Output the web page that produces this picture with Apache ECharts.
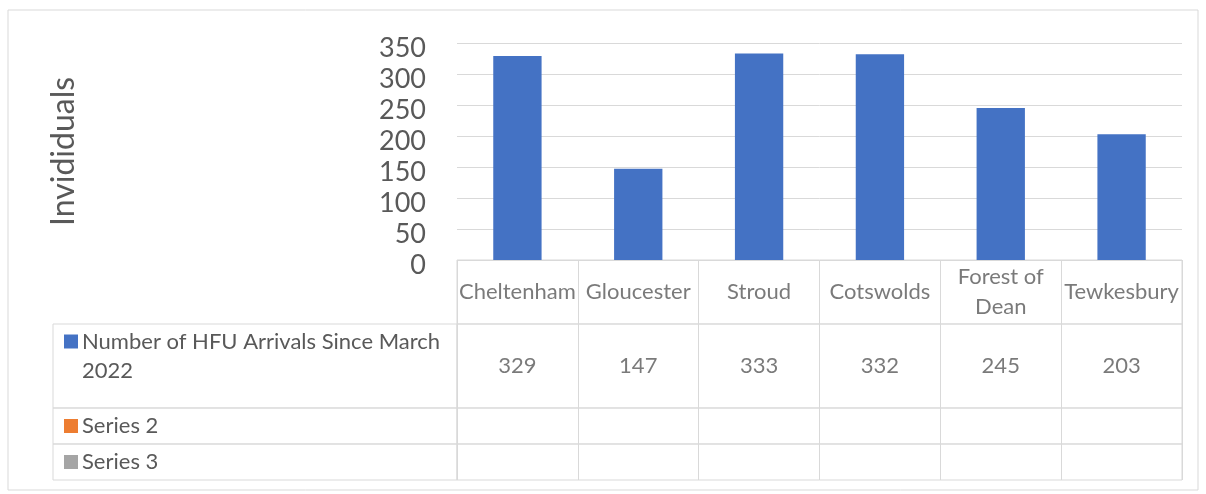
<!DOCTYPE html>
<html>
<head>
<meta charset="utf-8">
<script src="https://cdn.jsdelivr.net/npm/echarts@6/dist/echarts.min.js"></script>
<style>
html,body{margin:0;padding:0;background:#fff;}
#chart{width:1206px;height:494px;}
</style>
</head>
<body>
<div id="chart"></div>
<script>
// ---- data ----
const categories = ['Cheltenham', 'Gloucester', 'Stroud', 'Cotswolds', 'Forest of Dean', 'Tewkesbury'];
const categoryLabels = ['Cheltenham', 'Gloucester', 'Stroud', 'Cotswolds', 'Forest of\nDean', 'Tewkesbury'];
const arrivals = [329, 147, 333, 332, 245, 203];
const seriesNames = ['Number of HFU Arrivals Since March 2022', 'Series 2', 'Series 3'];
const seriesLegendLines = [['Number of HFU Arrivals Since March', '2022'], ['Series 2'], ['Series 3']];
const seriesColors = ['#4472C4', '#ED7D31', '#A5A5A5'];
const yMin = 0, yMax = 350, yStep = 50;
const axisTitle = 'Invididuals';

// ---- style / layout ----
const FONT = 'Lato';
const TXT = '#595959';
const LINE = '#d9d9d9';
const plotLeft = 457, plotRight = 24;
const rows = [
  {top: 260, height: 64},  // category row
  {top: 324, height: 84},  // series 1
  {top: 408, height: 36},  // series 2
  {top: 444, height: 36}   // series 3
];
const leftColLeft = 53, leftColWidth = plotLeft - 53;

const grids = [{left: plotLeft, right: plotRight, top: 43, height: 217}];
const xAxes = [{
  type: 'category', data: categories, gridIndex: 0, boundaryGap: true,
  axisLine: {show: false}, axisTick: {show: false}, axisLabel: {show: false}, splitLine: {show: false}
}];
const yAxes = [{
  type: 'value', gridIndex: 0, min: yMin, max: yMax, interval: yStep,
  axisLine: {show: false}, axisTick: {show: false},
  axisLabel: {margin: 31, formatter: v => '{a|' + v + '}',
    rich: {a: {color: TXT, fontFamily: FONT, fontSize: 27, padding: [11, 0, 0, 0]}}},
  splitLine: {lineStyle: {color: LINE, width: 1}},
  name: axisTitle, nameLocation: 'middle', nameGap: 377,
  nameTextStyle: {color: TXT, fontFamily: FONT, fontSize: 32}
}];
const series = [{
  type: 'bar', name: seriesNames[0], xAxisIndex: 0, yAxisIndex: 0,
  data: arrivals, barCategoryGap: '60%',
  itemStyle: {color: seriesColors[0]}
}];

// table rows (right part)
rows.forEach((r, i) => {
  const gi = grids.length;
  grids.push({left: plotLeft, right: plotRight, top: r.top, height: r.height,
    show: true, borderColor: LINE, borderWidth: 1, backgroundColor: 'transparent'});
  xAxes.push({type: 'category', data: categories, gridIndex: gi, boundaryGap: true,
    axisLine: {show: false}, axisTick: {show: false}, axisLabel: {show: false},
    splitLine: {show: true, interval: 0, lineStyle: {color: LINE, width: 1}}});
  yAxes.push({type: 'value', gridIndex: gi, min: 0, max: 1, show: false});
  let texts = null;
  if (i === 0) texts = categoryLabels;
  else if (i === 1) texts = arrivals.map(String);
  if (texts) {
    series.push({
      type: 'scatter', xAxisIndex: gi, yAxisIndex: gi, silent: true,
      symbolSize: 1, itemStyle: {color: 'rgba(0,0,0,0)'},
      data: categories.map((c, k) => [k, 0.5]),
      label: {show: true, position: 'inside', color: TXT, fontFamily: FONT, fontSize: 22,
        lineHeight: 30, align: 'center', verticalAlign: 'middle',
        formatter: p => texts[p.dataIndex]}
    });
  }
});

// table rows (left column with series keys)
rows.slice(1).forEach((r, i) => {
  const gi = grids.length;
  grids.push({left: leftColLeft, width: leftColWidth, top: r.top, height: r.height,
    show: true, borderColor: LINE, borderWidth: 1, backgroundColor: 'transparent'});
  xAxes.push({type: 'value', gridIndex: gi, min: 0, max: 1, show: false});
  const lines = seriesLegendLines[i];
  yAxes.push({type: 'category', gridIndex: gi, data: [seriesNames[i]],
    axisLine: {show: false}, axisTick: {show: false}, splitLine: {show: false},
    axisLabel: {
      inside: true, margin: 11, align: 'left',
      padding: i === 0 ? [0, 0, 20, 0] : [0, 0, 0, 0],
      formatter: () => lines.map((t, k) => (k === 0 ? '{sq|}' : '{sp|}') + '{t|' + t + '}').join('\n'),
      rich: {
        sq: {width: 14, height: 14, backgroundColor: seriesColors[i]},
        sp: {width: 14, height: 14},
        t: {color: TXT, fontFamily: FONT, fontSize: 22, lineHeight: 29, padding: [0, 0, 0, 4]}
      }
    }});
});

const chart = echarts.init(document.getElementById('chart'));
chart.setOption({
  animation: false,
  backgroundColor: '#fff',
  grid: grids,
  xAxis: xAxes,
  yAxis: yAxes,
  series: series,
  graphic: [{type: 'rect', shape: {x: 8, y: 10, width: 1190, height: 480},
    style: {fill: 'none', stroke: LINE, lineWidth: 1}, silent: true, z: -1}]
});
</script>
</body>
</html>
